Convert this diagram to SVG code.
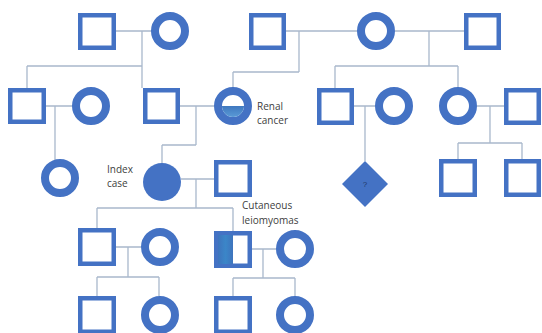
<svg xmlns="http://www.w3.org/2000/svg" width="542" height="333" viewBox="0 0 542 333">
<defs>
<style>
.sq{fill:#fff;stroke:#4472C4;stroke-width:4.5}
.ci{fill:#fff;stroke:#4472C4;stroke-width:8}
.ln{stroke:#a9b8cc;stroke-width:1.3;fill:none}
.lb{font-family:"Open Sans","Liberation Sans",sans-serif;font-size:10px;fill:#404040}
</style>
<linearGradient id="half" x1="0" y1="0" x2="0" y2="1">
<stop offset="0" stop-color="#3f78bf"/>
<stop offset="1" stop-color="#5a9ad6"/>
</linearGradient>
<linearGradient id="stripe" x1="0" y1="0" x2="1" y2="0">
<stop offset="0" stop-color="#3e74bd"/>
<stop offset="0.5" stop-color="#3b86c8"/>
<stop offset="1" stop-color="#3e74bd"/>
</linearGradient>
</defs>
<rect width="542" height="333" fill="#fff"/>
<g id="connectors" class="ln">
<path d="M116,31H151M142,31V88M27,66H142M27,66V88"/>
<path d="M286,31H357M299,31V72M233,72H299M233,72V87"/>
<path d="M395,31H464M429,31V66M335,66H458M335,66V88M458,66V87"/>
<path d="M46,106H72M55,106V160"/>
<path d="M180,106H214M196,106V145M162,145H196M162,145V163"/>
<path d="M354,106H375M365,106V161"/>
<path d="M477,106H504M490,106V143M458,143H522M458,143V159M522,143V159"/>
<path d="M181,179H214M196,179V208M97,208H233M97,208V228M233,208V231"/>
<path d="M116,247H141M128,247V277M97,277H159M97,277V296M159,277V296"/>
<path d="M252,249H276M263,249V278M233,278H295M233,278V296M295,278V296"/>
</g>
<g id="g1-m1"><rect class="sq" x="80.25" y="15.25" width="33.5" height="32.5"/></g>
<g id="g1-f1"><circle class="ci" cx="170" cy="31" r="15"/></g>
<g id="g1-m2"><rect class="sq" x="251.25" y="15.25" width="32.5" height="32.5"/></g>
<g id="g1-f2"><circle class="ci" cx="376" cy="31" r="15"/></g>
<g id="g1-m3"><rect class="sq" x="466.25" y="15.25" width="32.5" height="32.5"/></g>
<g id="g2-m1"><rect class="sq" x="10.25" y="90.25" width="33.5" height="31.5"/></g>
<g id="g2-f1"><circle class="ci" cx="91" cy="106" r="15"/></g>
<g id="g2-m2"><rect class="sq" x="145.25" y="90.25" width="32.5" height="31.5"/></g>
<g id="g2-renal">
<circle class="ci" cx="233" cy="106" r="15"/>
<path d="M222,106A11,11 0 0 0 244,106Z" fill="url(#half)"/>
<text class="lb" x="257" y="110">Renal</text>
<text class="lb" x="257" y="124">cancer</text>
</g>
<g id="g2-m3"><rect class="sq" x="319.25" y="90.25" width="32.5" height="32.5"/></g>
<g id="g2-f3"><circle class="ci" cx="394" cy="106" r="15"/></g>
<g id="g2-f4"><circle class="ci" cx="458" cy="106" r="15"/></g>
<g id="g2-m4"><rect class="sq" x="506.25" y="90.25" width="32.5" height="32.5"/></g>
<g id="g3-f1"><circle class="ci" cx="60" cy="178" r="15"/></g>
<g id="index">
<circle cx="162" cy="182" r="19" fill="#4472C4"/>
<text class="lb" x="107" y="173">Index</text>
<text class="lb" x="107" y="187">case</text>
</g>
<g id="g3-m1"><rect class="sq" x="216.25" y="162.25" width="33.5" height="32.5"/></g>
<g id="unknown">
<polygon points="365,161 388,184 365,207 342,184" fill="#4472C4"/>
<text x="365" y="187" text-anchor="middle" font-family="Liberation Sans,sans-serif" font-size="8" fill="#203864">?</text>
</g>
<g id="g3-m2"><rect class="sq" x="441.25" y="161.25" width="33.5" height="33.5"/></g>
<g id="g3-m3"><rect class="sq" x="506.25" y="161.25" width="32.5" height="33.5"/></g>
<g id="g4-m1"><rect class="sq" x="80.25" y="230.25" width="33.5" height="33.5"/></g>
<g id="g4-f1"><circle class="ci" cx="160" cy="247" r="15"/></g>
<g id="cutaneous">
<rect class="sq" x="216.25" y="233.25" width="33.5" height="32.5"/>
<rect x="218" y="235" width="15" height="29" fill="url(#stripe)"/>
<text class="lb" x="242" y="209">Cutaneous</text>
<text class="lb" x="242" y="224">leiomyomas</text>
</g>
<g id="g4-f2"><circle class="ci" cx="295" cy="249" r="15"/></g>
<g id="g5-m1"><rect class="sq" x="80.25" y="298.25" width="33.5" height="33.5"/></g>
<g id="g5-f1"><circle class="ci" cx="160" cy="315" r="15"/></g>
<g id="g5-m2"><rect class="sq" x="216.25" y="298.25" width="33.5" height="33.5"/></g>
<g id="g5-f2"><circle class="ci" cx="295" cy="315" r="15"/></g>
</svg>
